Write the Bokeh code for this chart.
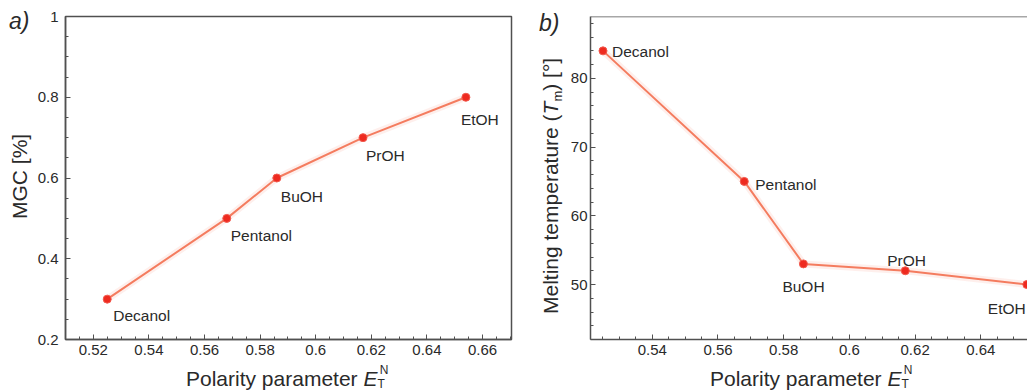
import numpy as np
from bokeh.plotting import figure
from bokeh.layouts import row, column
from bokeh.models import Range1d, FixedTicker, Span, ColumnDataSource, Div
from bokeh.core.properties import value
from bokeh.embed import file_html
from bokeh.resources import INLINE

# ---------------- data ----------------
solvents = ["Decanol", "Pentanol", "BuOH", "PrOH", "EtOH"]
polarity = [0.525, 0.568, 0.586, 0.617, 0.654]
mgc = [0.3, 0.5, 0.6, 0.7, 0.8]
melting_temp = [84, 65, 53, 52, 50]

xticks_a = [0.52, 0.54, 0.56, 0.58, 0.60, 0.62, 0.64, 0.66]
xlabels_a = ["0.52", "0.54", "0.56", "0.58", "0.6", "0.62", "0.64", "0.66"]
yticks_a = [0.2, 0.4, 0.6, 0.8, 1.0]
ylabels_a = ["0.2", "0.4", "0.6", "0.8", "1"]
xticks_b = [0.54, 0.56, 0.58, 0.60, 0.62, 0.64]
xlabels_b = ["0.54", "0.56", "0.58", "0.6", "0.62", "0.64"]
yticks_b = [50, 60, 70, 80]
ylabels_b = ["50", "60", "70", "80"]

x_title_html = ("Polarity parameter <i>E</i>"
                "<span style='font-size:12px;position:relative;top:2px'>T</span>"
                "<span style='font-size:12px;position:relative;top:-12px;margin-left:-5px'>N</span>")
ya_title_html = "MGC [%]"
yb_title_html = ("Melting temperature (<i>T</i>"
                 "<span style='font-size:13px;position:relative;top:4px'>m</span>) [°]")

# label placement (pixels, relative to point)
dx_a = [6, 4, 4, 3, -5]
dy_a = [16, 17, 18, 18, 22]
dx_b = [9, 11, -21, -18, -39]
dy_b = [1, 3, 23, -10, 24]

FONT = "Liberation Sans"
AX = "#505050"
TXT = "#2a2a2a"
LINE = "#f47c5f"
PT = "#ee2a1f"


def style_axes(p, xt, xl, xminor, yt, yl, yminor, ystand):
    p.xaxis.ticker = FixedTicker(ticks=xt, minor_ticks=xminor)
    p.yaxis.ticker = FixedTicker(ticks=yt, minor_ticks=yminor)
    p.xaxis.major_label_overrides = {t: l for t, l in zip(xt, xl)}
    p.yaxis.major_label_overrides = {t: l for t, l in zip(yt, yl)}
    for ax in (p.xaxis[0], p.yaxis[0]):
        ax.axis_line_color = AX
        ax.axis_line_width = 1.5
        ax.major_tick_line_color = AX
        ax.minor_tick_line_color = AX
        ax.major_tick_in = 5
        ax.major_tick_out = 0
        ax.minor_tick_in = 3
        ax.minor_tick_out = 0
        ax.major_label_text_font = FONT
        ax.major_label_text_font_size = "15px"
        ax.major_label_text_color = TXT
    p.xaxis.major_label_standoff = 5
    p.yaxis.major_label_standoff = ystand
    p.grid.visible = False
    p.background_fill_color = "white"
    p.border_fill_color = "white"


def draw_series(p, xs, ys, dx, dy):
    src = ColumnDataSource(dict(x=xs, y=ys, name=solvents, dx=dx, dy=dy))
    p.line("x", "y", source=src, line_color=LINE, line_width=7, line_alpha=0.12)
    p.line("x", "y", source=src, line_color=LINE, line_width=2)
    p.scatter("x", "y", source=src, size=8, fill_color=PT, line_color="#f25a4e",
              line_width=1)
    p.text("x", "y", text="name", source=src, x_offset="dx", y_offset="dy",
           text_font=value(FONT), text_font_size="15.5px", text_color=TXT,
           text_align="left", text_baseline="alphabetic")


def box(w, h, items):
    inner = "".join(items)
    html = (f"<div style=\"position:relative;width:{w}px;height:{h}px;"
            f"font-family:'{FONT}';color:{TXT};overflow:hidden\">{inner}</div>")
    return Div(text=html, width=w, height=h, margin=0)


def span(left, top, size, html, italic=False, rotate=False):
    st = (f"position:absolute;left:{left}px;top:{top}px;font-size:{size}px;"
          f"line-height:{size}px;white-space:nowrap;")
    if italic:
        st += "font-style:italic;"
    if rotate:
        st += "transform-origin:0 0;transform:rotate(-90deg);"
    return f"<span style=\"{st}\">{html}</span>"


# ---------------- panel a ----------------
p1 = figure(width=486, height=363, x_range=Range1d(0.51, 0.6704),
            y_range=Range1d(0.2, 1.0), output_backend="svg",
            toolbar_location=None, min_border_left=28, min_border_right=9,
            min_border_top=16, min_border_bottom=24, margin=0)
p1.outline_line_color = AX
p1.outline_line_width = 1.5
style_axes(p1, xticks_a, xlabels_a,
           [round(v, 3) for v in np.arange(0.51, 0.6701, 0.005)],
           yticks_a, ylabels_a,
           [round(v, 3) for v in np.arange(0.2, 1.0001, 0.05)], 7)
draw_series(p1, polarity, mgc, dx_a, dy_a)

# ---------------- panel b ----------------
p2 = figure(width=460, height=363, x_range=Range1d(0.5212, 0.6542),
            y_range=Range1d(42, 89), output_backend="svg",
            toolbar_location=None, min_border_left=23, min_border_right=0,
            min_border_top=16, min_border_bottom=24, margin=0)
p2.outline_line_color = None
p2.add_layout(Span(location=89, dimension="width", line_color=AX, line_width=1.5))
style_axes(p2, xticks_b, xlabels_b,
           [round(v, 3) for v in np.arange(0.525, 0.6541, 0.005)],
           yticks_b, ylabels_b, list(range(42, 90, 2)), 3)
draw_series(p2, polarity, melting_temp, dx_b, dy_b)

# ---------------- titles (HTML text) ----------------
strip_a = box(34, 363, [span(9, 10, 23, "a)", italic=True),
                        span(9, 219, 21, ya_title_html, rotate=True)])
strip_b = box(47, 363, [span(19, 12, 23, "b)", italic=True),
                        span(20, 314, 21, yb_title_html, rotate=True)])
bottom_a = box(520, 28, [span(186, 5, 21, x_title_html)])
bottom_b = box(507, 28, [span(190, 5, 21, x_title_html)])

panel_a = column(row(strip_a, p1, spacing=0), bottom_a, spacing=0)
panel_b = column(row(strip_b, p2, spacing=0), bottom_b, spacing=0)
layout = row(panel_a, panel_b, spacing=0)

open("out.html", "w").write(file_html(layout, INLINE))
